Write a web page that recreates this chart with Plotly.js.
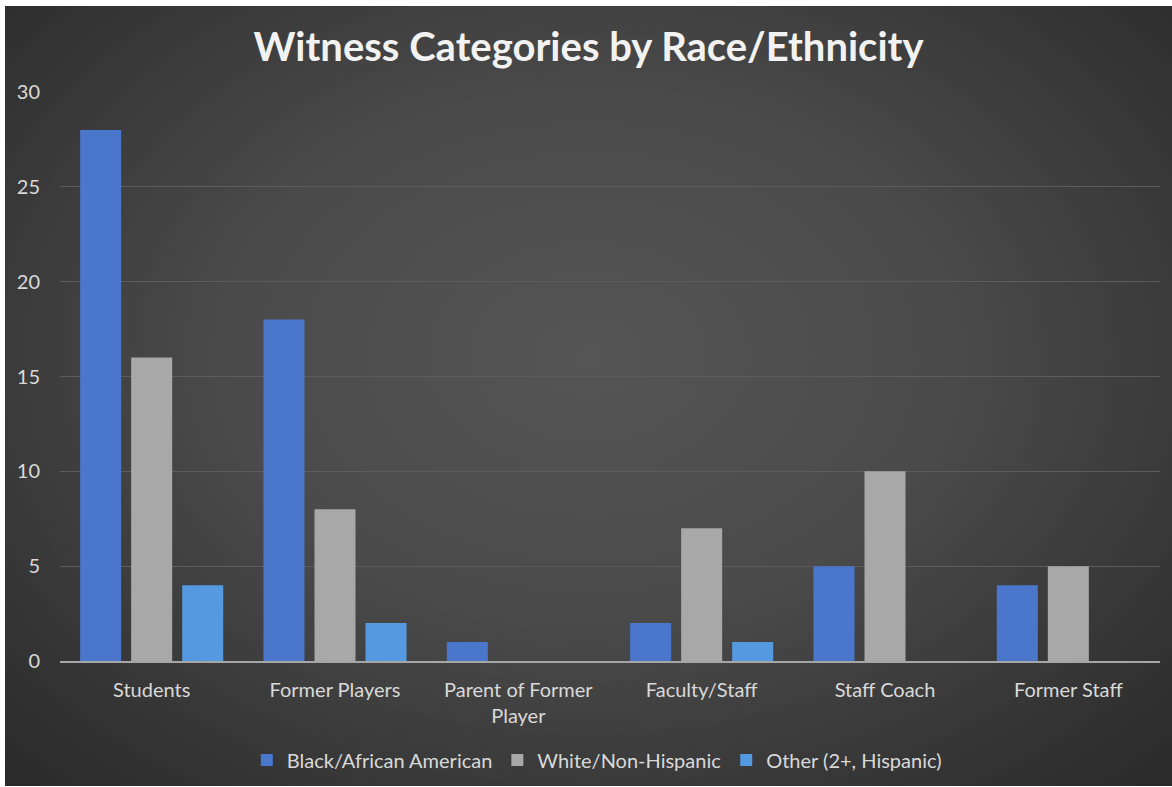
<!DOCTYPE html>
<html>
<head>
<meta charset="utf-8">
<script src="https://cdn.plot.ly/plotly-3.0.1.min.js"></script>
<style>
  html, body { margin: 0; padding: 0; background: #ffffff; }
  #chart {
    position: absolute; left: 5px; top: 6px; width: 1167px; height: 780px;
    background: radial-gradient(ellipse 70% 75% at 50% 45%, #555555 0%, #4a4a4a 45%, #333333 85%, #2b2b2b 100%);
  }
</style>
</head>
<body>
<div id="chart"></div>
<script>
const categories = ["Students", "Former Players", "Parent of Former<br>Player", "Faculty/Staff", "Staff Coach", "Former Staff"];
const seriesNames = ["Black/African American", "White/Non-Hispanic", "Other (2+, Hispanic)"];
const blackValues = [28, 18, 1, 2, 5, 4];
const whiteValues = [16, 8, 0, 7, 10, 5];
const otherValues = [4, 2, 0, 1, 0, 0];
const yTicks = [0, 5, 10, 15, 20, 25, 30];

const colors = ["#4a76cc", "#a8a8a8", "#559ae0"];
const values = [blackValues, whiteValues, otherValues];

const fontFamily = "Lato, 'Open Sans', sans-serif";

const traces = values.map((v, i) => ({
  type: "bar",
  name: seriesNames[i],
  x: categories,
  y: v,
  marker: { color: colors[i], line: { width: 0 } },
  hoverinfo: "x+y+name"
}));

const layout = {
  width: 1167,
  height: 780,
  paper_bgcolor: "rgba(0,0,0,0)",
  plot_bgcolor: "rgba(0,0,0,0)",
  margin: { l: 55, r: 12, t: 86, b: 125, autoexpand: false },
  title: {
    text: "<b>Witness Categories by Race/Ethnicity</b>",
    font: { family: fontFamily, size: 40, color: "#f2f2f2" },
    x: 0.5, xanchor: "center",
    y: 0.947, yanchor: "middle", yref: "container"
  },
  barmode: "group",
  bargap: 0.165,
  bargroupgap: 0.196,
  xaxis: {
    type: "category",
    automargin: false,
    showgrid: false,
    showline: true,
    linecolor: "#a6a6a6",
    linewidth: 1.5,
    ticks: "",
    tickfont: { family: fontFamily, size: 20, color: "#d9d9d9" },
    ticklabelstandoff: 10,
    zeroline: false
  },
  yaxis: {
    automargin: false,
    range: [0, 30],
    tickvals: yTicks,
    ticktext: yTicks.map(String),
    showgrid: true,
    gridcolor: "#5c5c5c",
    gridwidth: 1,
    zeroline: false,
    showline: false,
    ticks: "",
    tickfont: { family: fontFamily, size: 20, color: "#d9d9d9" },
    ticklabelstandoff: 19
  },
  showlegend: true,
  legend: {
    orientation: "h",
    x: 0.488, xanchor: "center",
    y: -0.174, yanchor: "middle",
    font: { family: fontFamily, size: 20, color: "#d9d9d9" },
    bgcolor: "rgba(0,0,0,0)",
    itemwidth: 30,
    itemsizing: "constant"
  }
};

Plotly.newPlot("chart", traces, layout, { displayModeBar: false, staticPlot: true });
</script>
</body>
</html>
